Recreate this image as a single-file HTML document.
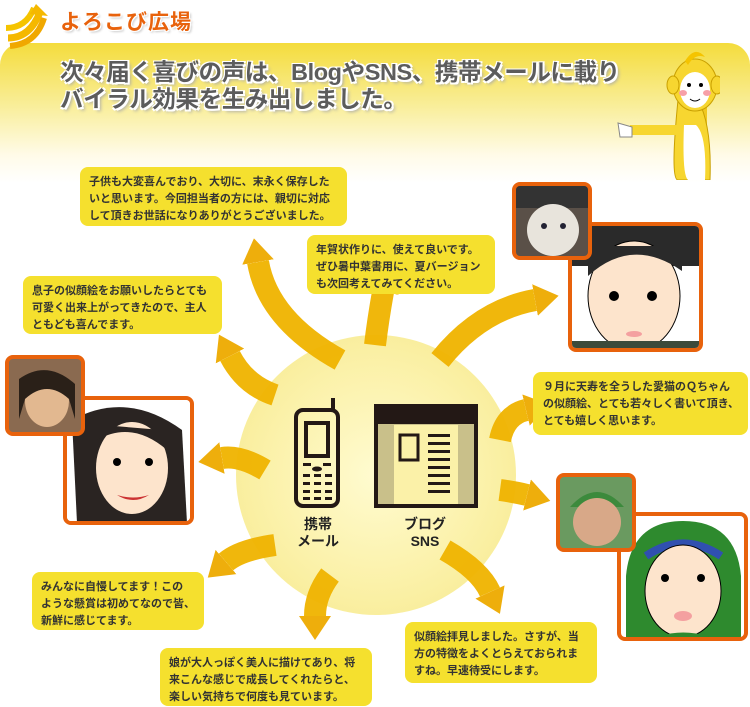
<!DOCTYPE html>
<html><head><meta charset="utf-8"><style>
body{margin:0;width:750px;height:707px;position:relative;overflow:hidden;background:#fff;font-family:"Liberation Sans","Noto Sans CJK JP",sans-serif}
.panel{position:absolute;left:0;top:43px;width:750px;height:140px;border-radius:22px 22px 0 0;background:linear-gradient(#f4dc3c,#f9ee9a 45%,#fffbe8 80%,#fff)}
.title{position:absolute;left:60px;top:6px;font-size:21px;font-weight:bold;color:#e8620c;letter-spacing:1px;text-shadow:1px 1px 0 #fff,-1px -1px 0 #fff,1px -1px 0 #fff,-1px 1px 0 #fff,2px 2px 2px #ccc}
.head{position:absolute;left:60px;top:59px;font-size:23.5px;line-height:27px;font-weight:bold;color:#5c5c5c;text-shadow:2px 2px 0 #fff,-1px -1px 0 #fff,2px -1px 0 #fff,-1px 2px 0 #fff,3px 3px 3px #aaa;letter-spacing:-0.4px;white-space:nowrap}
.box{position:absolute;background:#f5e02e;border-radius:8px;font-size:11px;line-height:17px;font-weight:bold;color:#333;padding:7px 9px;box-sizing:border-box;white-space:nowrap}
.ph{position:absolute;border:4px solid #e8620c;border-radius:8px;box-sizing:border-box;overflow:hidden;background:#fff}
.lbl{position:absolute;font-size:14px;font-weight:bold;color:#222;text-align:center;line-height:17px}
</style></head><body>
<div class="panel"></div>
<svg style="position:absolute;left:0;top:0" width="60" height="50"><path d="M8 38 Q30 38 40 12" stroke="#f5b800" stroke-width="7" fill="none"/><path d="M6 28 Q26 28 34 8" stroke="#f5c400" stroke-width="6" fill="none"/><path d="M10 46 Q36 44 44 18" stroke="#f0a800" stroke-width="6" fill="none"/><polygon points="36,4 48,16 30,14" fill="#f5b800"/></svg>
<div class="title">よろこび広場</div>
<div class="head">次々届く喜びの声は、BlogやSNS、携帯メールに載り<br>バイラル効果を生み出しました。</div>
<svg style="position:absolute;left:610px;top:45px" width="110" height="135">
<path d="M75 30 L75 130 M95 60 L95 130" stroke="#f0c820" stroke-width="4"/>
<path d="M68 55 Q60 135 68 135 L100 135 Q102 80 88 55Z" fill="#f7d630" stroke="#c9a000"/>
<path d="M74 80 Q72 130 78 135 L95 135 Q97 90 86 80Z" fill="#fff"/>
<path d="M72 85 L20 85" stroke="#f7d630" stroke-width="10"/>
<path d="M8 78 L22 82 L22 92 L10 92Z" fill="#fff" stroke="#888"/>
<ellipse cx="85" cy="40" rx="22" ry="26" fill="#f7d630" stroke="#c9a000"/>
<ellipse cx="63" cy="40" rx="6" ry="9" fill="#f7d630" stroke="#c9a000"/>
<ellipse cx="107" cy="40" rx="6" ry="9" fill="#f7d630" stroke="#c9a000"/>
<ellipse cx="85" cy="45" rx="15" ry="18" fill="#fff"/>
<circle cx="79" cy="40" r="2" fill="#000"/><circle cx="91" cy="40" r="2" fill="#000"/>
<ellipse cx="73" cy="48" rx="4" ry="3" fill="#f7a0a8"/><ellipse cx="97" cy="48" rx="4" ry="3" fill="#f7a0a8"/>
<path d="M80 54 Q85 58 90 54" stroke="#000" fill="none"/>
<path d="M75 16 Q85 0 95 12 Q85 8 78 20Z" fill="#f5c400"/>
</svg>
<svg style="position:absolute;left:0;top:0" width="750" height="707">
<defs><radialGradient id="sun"><stop offset="0" stop-color="#fffbd0"/><stop offset=".8" stop-color="#fbf1a8"/><stop offset="1" stop-color="#f9ee9e"/></radialGradient>
<marker id="ah" markerUnits="userSpaceOnUse" markerWidth="30" markerHeight="34" refX="0" refY="16" orient="auto"><path d="M0 0 L24 16 L0 32Z" fill="#eeaa00"/></marker></defs>
<circle cx="376" cy="475" r="140" fill="url(#sun)"/>
<g stroke="#f0b400" stroke-width="22" fill="none" marker-end="url(#ah)" opacity=".95">
<path d="M340 360 Q268 320 258 262"/>
<path d="M375 345 Q378 320 383 292"/>
<path d="M440 360 Q480 310 535 300"/>
<path d="M275 395 Q245 385 230 356"/>
<path d="M500 440 Q505 415 526 410"/>
<path d="M265 470 Q240 455 222 458"/>
<path d="M500 490 Q515 492 527 495"/>
<path d="M275 545 Q240 550 226 562"/>
<path d="M330 575 Q315 595 315 616"/>
<path d="M445 550 Q480 570 490 592"/>
</g>
<g stroke="#231815" stroke-width="4" fill="none">
<rect x="296" y="410" width="42" height="96" rx="7"/>
<line x1="333" y1="410" x2="333" y2="398"/>
<rect x="306" y="423" width="22" height="33"/>
</g>
<g fill="#231815"><rect x="303" y="463" width="8" height="3"/><rect x="323" y="463" width="8" height="3"/><ellipse cx="317" cy="469" rx="5" ry="2.5"/>
<rect x="303" y="474" width="7" height="3"/><rect x="314" y="474" width="7" height="3"/><rect x="325" y="474" width="7" height="3"/>
<rect x="303" y="482" width="7" height="3"/><rect x="314" y="482" width="7" height="3"/><rect x="325" y="482" width="7" height="3"/>
<rect x="303" y="490" width="7" height="3"/><rect x="314" y="490" width="7" height="3"/><rect x="325" y="490" width="7" height="3"/>
<rect x="303" y="497" width="7" height="3"/><rect x="314" y="497" width="7" height="3"/><rect x="325" y="497" width="7" height="3"/></g>
<rect x="374" y="404" width="104" height="104" fill="#c9c08a"/>
<rect x="394" y="425" width="64" height="80" fill="#fbf1a8"/>
<rect x="374" y="404" width="104" height="20" fill="#231815"/>
<rect x="376" y="406" width="100" height="100" fill="none" stroke="#231815" stroke-width="4"/>
<rect x="400" y="435" width="18" height="25" fill="none" stroke="#231815" stroke-width="3"/>
<g fill="#231815"><rect x="428" y="434" width="22" height="3"/><rect x="428" y="442" width="22" height="3"/><rect x="428" y="450" width="22" height="3"/><rect x="428" y="458" width="22" height="3"/><rect x="428" y="466" width="22" height="3"/><rect x="428" y="474" width="22" height="3"/><rect x="428" y="482" width="22" height="3"/><rect x="428" y="490" width="22" height="3"/></g>
</svg>
<div class="lbl" style="left:288px;top:516px;width:60px">携帯<br>メール</div>
<div class="lbl" style="left:395px;top:516px;width:60px">ブログ<br>SNS</div>

<div class="box" style="left:80px;top:167px;width:267px;height:59px">子供も大変喜んでおり、大切に、末永く保存した<br>いと思います。今回担当者の方には、親切に対応<br>して頂きお世話になりありがとうございました。</div>
<div class="box" style="left:307px;top:235px;width:188px;height:59px">年賀状作りに、使えて良いです。<br>ぜひ暑中葉書用に、夏バージョン<br>も次回考えてみてください。</div>
<div class="box" style="left:23px;top:276px;width:199px;height:58px">息子の似顔絵をお願いしたらとても<br>可愛く出来上がってきたので、主人<br>ともども喜んでます。</div>
<div class="box" style="left:533px;top:372px;width:215px;height:63px;padding:7px 7px 6px 10px">９月に天寿を全うした愛猫のＱちゃん<br>の似顔絵、とても若々しく書いて頂き、<br>とても嬉しく思います。</div>
<div class="box" style="left:32px;top:572px;width:172px;height:58px">みんなに自慢してます！この<br>ような懸賞は初めてなので皆、<br>新鮮に感じてます。</div>
<div class="box" style="left:160px;top:648px;width:212px;height:58px">娘が大人っぽく美人に描けてあり、将<br>来こんな感じで成長してくれたらと、<br>楽しい気持ちで何度も見ています。</div>
<div class="box" style="left:405px;top:622px;width:192px;height:61px">似顔絵拝見しました。さすが、当<br>方の特徴をよくとらえておられま<br>すね。早速待受にします。</div>

<div class="ph" style="left:568px;top:222px;width:135px;height:130px"><svg width="130" height="125"><rect width="130" height="40" fill="#2a2a2a"/><ellipse cx="62" cy="70" rx="46" ry="55" fill="#fde4cc" stroke="#000"/><path d="M16 50 Q60 10 110 45 L110 20 L16 20Z" fill="#2a2a2a"/><circle cx="42" cy="70" r="5"/><circle cx="80" cy="70" r="5"/><ellipse cx="62" cy="108" rx="8" ry="3" fill="#f4a0a0"/><rect y="115" width="130" height="15" fill="#3c4a3a"/></svg></div>
<div class="ph" style="left:512px;top:182px;width:80px;height:78px;background:#5a5048"><svg width="74" height="72"><rect width="74" height="22" fill="#333"/><ellipse cx="37" cy="44" rx="26" ry="26" fill="#e8e4dc"/><circle cx="28" cy="40" r="3" fill="#223"/><circle cx="47" cy="40" r="3" fill="#223"/></svg></div>

<div class="ph" style="left:63px;top:396px;width:131px;height:129px"><svg width="125" height="123"><path d="M0 0 L125 0 L125 123 L0 123Z" fill="#fff"/><path d="M5 20 Q60 -10 115 30 L120 123 L10 123Z" fill="#2a2422"/><ellipse cx="65" cy="68" rx="36" ry="46" fill="#fde4cc"/><path d="M30 40 Q65 20 100 50 L95 30 L35 25Z" fill="#2a2422"/><circle cx="50" cy="62" r="4"/><circle cx="82" cy="62" r="4"/><path d="M50 95 Q66 105 82 95 Q66 100 50 95Z" fill="#c33"/></svg></div>
<div class="ph" style="left:5px;top:355px;width:80px;height:81px;background:#8a6a50"><svg width="74" height="75"><ellipse cx="38" cy="42" rx="22" ry="26" fill="#e2b890"/><path d="M10 20 Q38 0 66 25 L66 60 L60 40 Q38 20 16 40 L10 60Z" fill="#2a2018"/></svg></div>

<div class="ph" style="left:617px;top:512px;width:131px;height:129px"><svg width="125" height="123"><path d="M5 60 Q10 5 62 5 Q115 5 120 60 L120 123 L5 123Z" fill="#2e8a2e"/><path d="M25 40 Q62 15 100 40" stroke="#3050b0" stroke-width="8" fill="none"/><ellipse cx="62" cy="75" rx="38" ry="46" fill="#fde4cc" stroke="#000"/><circle cx="44" cy="62" r="4"/><circle cx="80" cy="62" r="4"/><ellipse cx="62" cy="100" rx="9" ry="5" fill="#f4a0a0"/><path d="M30 123 Q62 110 95 123Z" fill="#2e8a2e"/></svg></div>
<div class="ph" style="left:556px;top:473px;width:80px;height:79px;background:#6a9a60"><svg width="74" height="73"><path d="M10 30 Q37 0 64 30Z" fill="#3c8a3c"/><ellipse cx="37" cy="45" rx="24" ry="24" fill="#d8a888"/></svg></div>
</body></html>
